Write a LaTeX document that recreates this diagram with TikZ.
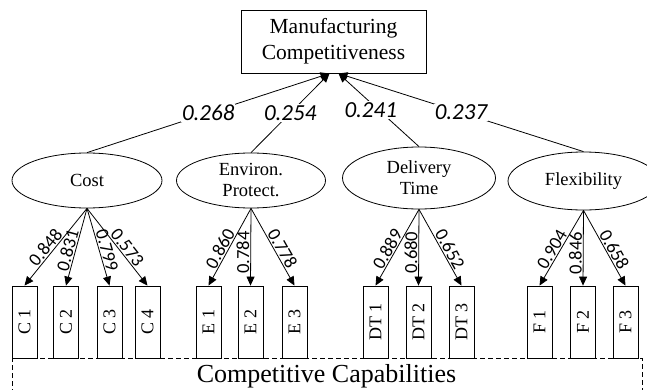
\documentclass[tikz,border=0pt]{standalone}
\usepackage{fontspec}
\setmainfont{Liberation Serif}
\newfontfamily\calfont{Carlito}
\usepackage{graphicx}
\usetikzlibrary{arrows.meta,shapes.geometric}

\begin{document}
\begin{tikzpicture}[x=1pt,y=1pt,
		construct/.style={draw, ellipse, line width=0.8pt, inner sep=0pt, align=center, font=\fontsize{18.5}{21}\selectfont},
		item/.style={draw, rectangle, line width=0.8pt, minimum width=25pt, minimum height=72pt, inner sep=0pt, font=\fontsize{18}{20}\selectfont},
		load/.style={sloped, above, pos=0.57, inner sep=1pt, font=\calfont\fontsize{18.5}{22}\selectfont},
		pathval/.style={fill=white, inner sep=1pt, font=\calfont\itshape\fontsize{23}{26}\selectfont},
		link/.style={line width=0.8pt, -{Triangle[length=9pt,width=8pt]}}
	]
		\useasboundingbox (0,0) rectangle (647,389);
		\clip (0,0) rectangle (647,389);

		\draw (333.5,347.5) node [draw, line width=0.9pt, minimum width=185pt, minimum height=63pt, align=center, font=\fontsize{21.5}{26}\selectfont] (mc) {Manufacturing\\Competitiveness};

		\draw (87,208.5) node [construct, minimum width=150pt, minimum height=55pt] (cost) {Cost};
		\draw (251,208.5) node [construct, minimum width=149pt, minimum height=55pt] (env) {Environ.\\Protect.};
		\draw (419,211) node [construct, minimum width=153pt, minimum height=62pt] (del) {Delivery\\Time};
		\draw (583.5,208) node [construct, minimum width=151pt, minimum height=58pt] (flex) {Flexibility};

		\draw (24.5,67) node [item] (c1) {\rotatebox{90}{C 1}};
		\draw (66,67) node [item] (c2) {\rotatebox{90}{C 2}};
		\draw (109.5,67) node [item] (c3) {\rotatebox{90}{C 3}};
		\draw (147.5,67) node [item] (c4) {\rotatebox{90}{C 4}};
		\draw (208.5,67) node [item] (e1) {\rotatebox{90}{E 1}};
		\draw (250.5,67) node [item] (e2) {\rotatebox{90}{E 2}};
		\draw (294.5,67) node [item] (e3) {\rotatebox{90}{E 3}};
		\draw (375.5,67) node [item] (dt1) {\rotatebox{90}{DT 1}};
		\draw (418.5,67) node [item] (dt2) {\rotatebox{90}{DT 2}};
		\draw (461.5,67) node [item] (dt3) {\rotatebox{90}{DT 3}};
		\draw (539.5,67) node [item] (f1) {\rotatebox{90}{F 1}};
		\draw (583,67) node [item] (f2) {\rotatebox{90}{F 2}};
		\draw (625.5,67) node [item] (f3) {\rotatebox{90}{F 3}};

		\draw [line width=0.8pt, dash pattern=on 5pt off 3pt] (12,-5) |- (642,31) -- (642,-5);
		\draw (326.5,7) node [anchor=base, font=\fontsize{26}{30}\selectfont] (cc) {Competitive Capabilities};

		\draw
			(cost.north) edge [link] node [pathval] {0.268} ([xshift=-4pt]mc.south)
			(env.north) edge [link] node [pathval] {0.254} ([xshift=-4pt]mc.south)
			(del.north) edge [link] node [pathval, xshift=-8pt] {0.241} ([xshift=5pt]mc.south)
			(flex.north) edge [link] node [pathval] {0.237} ([xshift=5pt]mc.south)
		;

		\draw
			(cost.south) edge [link] node [load] {0.848} (c1.north)
			(cost.south) edge [link] node [load] {0.831} (c2.north)
			(cost.south) edge [link] node [load] {0.799} (c3.north)
			(cost.south) edge [link] node [load] {0.573} (c4.north)
			(env.south) edge [link] node [load] {0.860} (e1.north)
			(env.south) edge [link] node [load] {0.784} (e2.north)
			(env.south) edge [link] node [load] {0.778} (e3.north)
			(del.south) edge [link] node [load] {0.889} (dt1.north)
			(del.south) edge [link] node [load] {0.680} (dt2.north)
			(del.south) edge [link] node [load] {0.652} (dt3.north)
			(flex.south) edge [link] node [load] {0.904} (f1.north)
			(flex.south) edge [link] node [load] {0.846} (f2.north)
			(flex.south) edge [link] node [load] {0.658} (f3.north)
		;
	\end{tikzpicture}
\end{document}
